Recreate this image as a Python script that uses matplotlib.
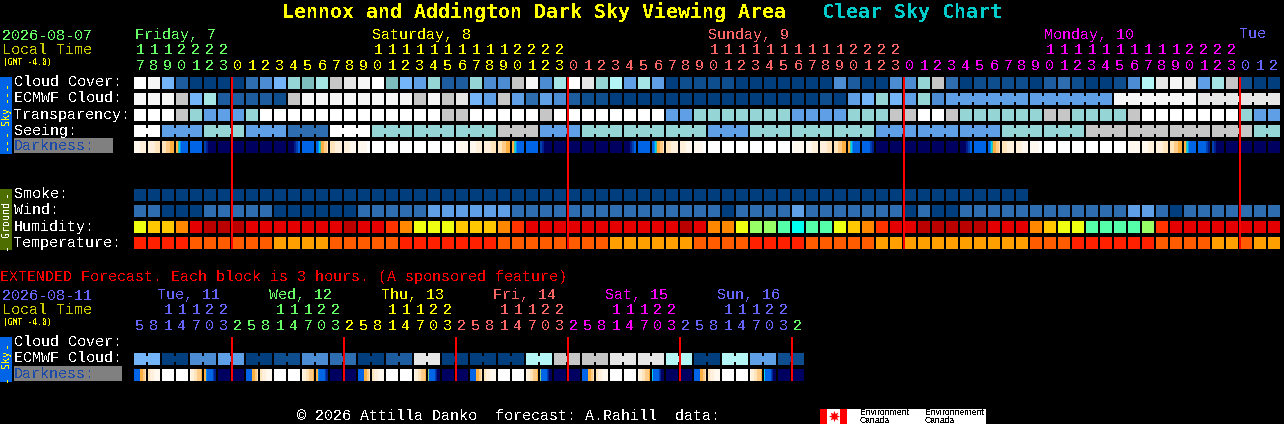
import matplotlib
matplotlib.use("Agg")
import matplotlib.pyplot as plt

plt.rcParams['font.family'] = ['Liberation Mono', 'DejaVu Sans Mono']
plt.rcParams['text.antialiased'] = False

# ---------- data: per-hour categories ----------
cloud_cover = ("wngcaaaadeghijlmnwigf" "hcchee" "lnejwmhkfjf" "abbbbaaaaaaa" "ec"
               "aaeehldabbbbacdbaabekmnmfjlbaa")
ecmwf_cloud = ("nnnlgjccccblnnnnnnnnl" "nlmgflfdfecbb" "aaaaaaaaaaaaaaa" "baf"
               "ghgfhe" "ffffffffffff" "nnnnnn" "mmmmmm")
transparency = ("wwwlhfffh" "wwwwwwwwwwww" "wll" "wwwww" "lw" "wwwwwww" "ff" "hhhhhhh" "ffff" "h"
                "hhllwwl" "hhhhhh" "ll" "hhhh" "l" "wwwwwww" "hff")
seeing_values = "wfhfdwhhhlfhhhfhhhfffhhllllh"
seeing_spans = [2] + [3] * 26 + [2]
ecmwf_spans_late = {58: 6, 64: 6, 70: 6, 76: 6}
smoke = "a" * 64
wind = ("ddaaadddddaaaaaaddddd" "ffffff" "ddddddddddddddd" "a" "dddd" "f" "dddd"
        "dddadaa" "dddddddddddd" "ff" "dad" "dddddd")
humidity = ("yoop" "r" "sss" "rrrrrrr" "s" "rr" "qpy"
            "yyooopq" "rrrrrrrrrrr" "srppyggmcmmyo"
            "pqrr" "sssss" "rrr" "poyy" "mmmm" "gq" "rrrrrrrr")
temperature = ("1111" "222222" "3333" "22222" "11"
               "11111" "22222222" "333333" "2222" "1111" "2222"
               "2" "33333333333" "222" "111111" "2222" "33" "2" "33")

# darkness: one 12-pixel colour string per hour cell
W = "wwwwwwwwwwww"; N = "nnnnnnnnnnnn"; B = "bbbbbbbbbbbb"
P1 = "wxxxxxxxxxxx"; P2 = "xxxxxxyyyyyy"; P3 = "yyyyyyyzzzzz"; P4 = "zzzzuuuuvvvv"
EV = "vvtclbbbbbbb"; NF = "eeffnnnnnnnn"; BF = "bbbbbbbbeeff"
MD = "nnnnnnffeebb"; MO = "bblctvvvuuuz"; A1 = "zzzzzyyyyyyy"; A2 = "yyyyyyxxxxxx"; A3 = "xxxxxxxxxwww"
darkness = [P2, P3, P4, EV, B, NF, N, N, N, N, N, MD, B, MO, A1, A2, A3,
            W, W, W, W, W, W, P1, P2, P3, P4, EV, B, NF, N, N, N, N, N, MD, B, MO, A1, A2, A3,
            W, W, W, W, W, W, P1, P2, P3, P4, EV, BF, N, N, N, N, N, N, MD, B, MO, A1, A2, A3,
            W, W, W, W, W, W, P1, P2, P3, P4, EV, BF, NF, N, N, N, N]

hours_main = list(range(17, 24)) + list(range(24)) * 3 + [0, 1, 2]
hour_colors_main = ["fri"] * 7 + ["sat"] * 24 + ["sun"] * 24 + ["mon"] * 24 + ["tue"] * 3
day_labels_main = [("Friday, 7", 135, "fri"), ("Saturday, 8", 372, "sat"), ("Sunday, 9", 708, "sun"),
                   ("Monday, 10", 1044, "mon"), ("Tue", 1240, "tue")]
midnights_main = [7, 31, 55, 79]

# extended forecast (3-hour cells, merged in pairs for cloud)
ext_ecmwf = ["g", "a", "e", "f", "a", "b", "e", "d", "a", "c", "m", "a",
             "a", "a", "k", "l", "l", "m", "m", "k", "a", "k", "f", "b"]
XA = "bbbbbbvvvuuz"; XB = "zzyyyyxxxxxx"; XC = "xyyyzzzuuuuv"; XD1 = "vvlbbbbbbeff"; XD2 = "gbbbbbbefnnn"; XD3 = "cbbbbbbefnnn"
ext_darkness = [XA, XB, W, W, XC, XD1, N, N,
                XA, XB, W, W, XC, XD1, N, N,
                XA, XB, W, W, XC, XD2, N, N,
                XA, XB, W, W, XC, XD2, N, N,
                XA, XB, W, W, XC, XD3, N, N,
                XA, XB, W, W, XC, XD3, N, N]
hours_ext = [5, 8, 11, 14, 17, 20, 23, 2] * 6
hour_colors_ext = ["tue"] * 7 + ["fri"] * 8 + ["sat"] * 8 + ["sun"] * 8 + ["mon"] * 8 + ["tue"] * 8 + ["fri"]
day_labels_ext = [("Tue, 11", 157, "tue"), ("Wed, 12", 269, "fri"), ("Thu, 13", 381, "sat"),
                  ("Fri, 14", 493, "sun"), ("Sat, 15", 605, "mon"), ("Sun, 16", 717, "tue")]
midnights_ext = [7, 15, 23, 31, 39, 47]

# ---------- styles ----------
CLOUD = dict(a="#003E7E", b="#0E4E8E", c="#1D5C9E", d="#2E6EB0", e="#4C8CD2", f="#5F9FE6", g="#74B5FA",
             h="#96D5D5", i="#7EBDBD", j="#A5E5E5", k="#B4F5F5", l="#C6C6C6", m="#E6E6E6", n="#F6F6F6", w="#FFFFFF")
HUM = dict(y="#EEFF11", o="#FFC800", p="#FF8800", q="#FF3300", r="#E40000", s="#BB0000",
           g="#99FF66", m="#55FFAA", c="#00FFEE")
TEMP = {"1": "#FF2000", "2": "#FF5C00", "3": "#FFA000"}
DARK = dict(w="#FFFFFF", x="#FFF8EE", y="#FFF0DC", z="#FFE4BC", u="#FFCC88", v="#FFB040", t="#40C0A0",
            c="#00D0F0", g="#80D080", l="#0090F0", b="#0064E6", e="#0040B0", f="#002090", n="#000060")
DAY = dict(fri="#66FF66", sat="#FFFF00", sun="#FF6666", mon="#FF00FF", tue="#6666FF")
X0, PITCH, CELL = 134, 14, 12
PX = 0.72  # points per pixel at 100 dpi

fig = plt.figure(figsize=(12.84, 4.24), dpi=100, facecolor="black")
ax = fig.add_axes([0, 0, 1, 1])
ax.set_xlim(0, 1284)
ax.set_ylim(424, 0)
ax.axis("off")


def T(x, y, s, color="white", px=15, **kw):
    ax.text(x, y + 0.5, s, color=color, fontsize=px * PX, va="baseline", **kw)


def V(y, s, color, px=10):
    ax.text(6, y, s, color=color, fontsize=px * PX, rotation=90, ha="center", va="center", family="DejaVu Sans Mono")


def row(y, codes, pal):
    xs = [X0 + PITCH * i for i in range(len(codes))]
    ax.bar(xs, CELL, width=CELL, bottom=y, align="edge", linewidth=0, color=[pal[c] for c in codes])


def joins(y, starts_spans, pal, values):
    for (start, span), v in zip(starts_spans, values):
        for i in range(start, start + span - 1):
            ax.bar(X0 + PITCH * i + CELL, 6, width=PITCH - CELL, bottom=y + 3, align="edge",
                   linewidth=0, color=pal[v])


def dark_row(y, cells):
    xs, cols = [], []
    for i, cell in enumerate(cells):
        for j, c in enumerate(cell):
            xs.append(X0 + PITCH * i + j)
            cols.append(DARK[c])
    ax.bar(xs, CELL, width=1, bottom=y, align="edge", linewidth=0, color=cols, antialiased=False)


def hour_labels(y_tens, y_units, hours, keys):
    for i, (h, k) in enumerate(zip(hours, keys)):
        x = X0 + PITCH * i + 6
        if h >= 10:
            T(x, y_tens, str(h // 10), DAY[k], ha="center")
        T(x, y_units, str(h % 10), DAY[k], ha="center")


# ---------- title ----------
T(282, 18, "Lennox and Addington Dark Sky Viewing Area", "#FFFF00", px=20, fontweight="bold", family="DejaVu Sans Mono")
T(822, 18, "Clear Sky Chart", "#00CCCC", px=20, fontweight="bold", family="DejaVu Sans Mono")

# ---------- header ----------
T(2, 39, "2026-08-07", "#66FF66")
T(2, 54, "Local Time", "#CCCC00")
T(3, 64, "(GMT -4.0)", "#FFFF00", px=8, family="DejaVu Sans Mono")
for s, x, k in day_labels_main:
    T(x, 38, s, DAY[k])
hour_labels(54, 70, hours_main, hour_colors_main)

# ---------- sky rows ----------
row(77, cloud_cover, CLOUD)
row(93, ecmwf_cloud, CLOUD)
joins(93, list(ecmwf_spans_late.items()), CLOUD, [ecmwf_cloud[s] for s in ecmwf_spans_late])
row(109, transparency, CLOUD)
seeing_cols = "".join(v * n for v, n in zip(seeing_values, seeing_spans))
row(125, seeing_cols, CLOUD)
starts = [sum(seeing_spans[:i]) for i in range(len(seeing_spans))]
joins(125, list(zip(starts, seeing_spans)), CLOUD, seeing_values)
dark_row(141, darkness)

ax.bar(0, 77, width=12, bottom=77, align="edge", linewidth=0, color="#0064E6")
V(116, "Sky", "#FFFF00")
V(91, "---", "#FFFF00", 12)
V(139, "---", "#FFFF00", 12)
for y, s in [(86, "Cloud Cover:"), (102, "ECMWF Cloud:"), (118, "Transparency:"), (134, "Seeing:")]:
    T(14, y, s)
ax.bar(14, 15, width=99, bottom=138, align="edge", linewidth=0, color="#808080")
T(14, 150, "Darkness:", "#1C4AA8")

# ---------- ground rows ----------
row(189, smoke, CLOUD)
row(205, wind, CLOUD)
row(221, humidity, HUM)
row(237, temperature, TEMP)
ax.bar(0, 61, width=12, bottom=189, align="edge", linewidth=0, color="#4F6E00")
V(219, "Ground", "white")
V(193, "-", "white", 12)
V(246, "-", "white", 12)
for y, s in [(198, "Smoke:"), (214, "Wind:"), (230, "Humidity:"), (246, "Temperature:")]:
    T(14, y, s)

for m in midnights_main:
    ax.bar(X0 + PITCH * m - 1, 172, width=2, bottom=77, align="edge", linewidth=0, color="#FF0000", zorder=5)

# ---------- extended ----------
T(0, 281, "EXTENDED Forecast. Each block is 3 hours. (A sponsored feature)", "#FF0000")
T(2, 299, "2026-08-11", "#6666FF")
T(2, 314, "Local Time", "#CCCC00")
T(3, 324, "(GMT -4.0)", "#FFFF00", px=8, family="DejaVu Sans Mono")
for s, x, k in day_labels_ext:
    T(x, 299, s, DAY[k])
hour_labels(314, 330, hours_ext, hour_colors_ext)

ext_cols = "".join(v * 2 for v in ext_ecmwf)
row(353, ext_cols, CLOUD)
joins(353, [(2 * i, 2) for i in range(len(ext_ecmwf))], CLOUD, ext_ecmwf)
dark_row(369, ext_darkness)

ax.bar(0, 45, width=12, bottom=337, align="edge", linewidth=0, color="#0064E6")
V(359, "Sky", "#FFFF00")
V(344, "-", "#FFFF00", 12)
V(378, "-", "#FFFF00", 12)
T(14, 346, "Cloud Cover:")
T(14, 362, "ECMWF Cloud:")
ax.bar(14, 15, width=108, bottom=366, align="edge", linewidth=0, color="#808080")
T(14, 378, "Darkness:", "#1C4AA8")
for m in midnights_ext:
    ax.bar(X0 + PITCH * m - 1, 44, width=2, bottom=337, align="edge", linewidth=0, color="#FF0000", zorder=5)

# ---------- footer ----------
T(297, 420, "\u00a9 2026 Attilla Danko  forecast: A.Rahill  data:")
ax.bar(820, 15, width=166, bottom=409, align="edge", linewidth=0, color="white")
ax.bar(820, 15, width=7, bottom=409, align="edge", linewidth=0, color="#FF0000")
ax.bar(840, 15, width=7, bottom=409, align="edge", linewidth=0, color="#FF0000")
ax.plot([833.5], [416], marker=(8, 1, 0), markersize=8, color="#FF0000", markeredgewidth=0)
for x, s in [(860, "Environment"), (925, "Environnement")]:
    ax.text(x, 415, s, color="black", fontsize=6.2, family="Liberation Sans", va="baseline")
    ax.text(x, 423, "Canada", color="black", fontsize=6.2, family="Liberation Sans", va="baseline")

fig.savefig("out.png", dpi=100, facecolor="black")
